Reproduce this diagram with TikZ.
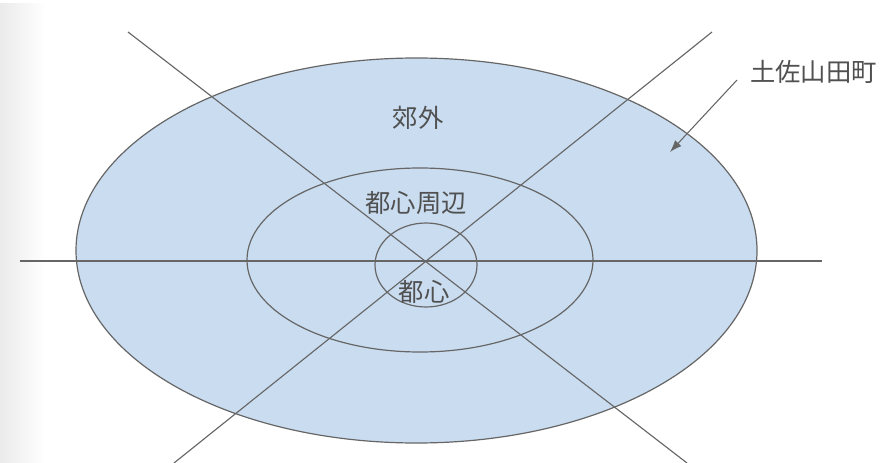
\documentclass[tikz,border=0pt]{standalone}
\usepackage{fontspec}
\newfontfamily\jp{Noto Sans CJK JP}
\usetikzlibrary{arrows.meta}
\definecolor{fillblue}{HTML}{C9DCF0}
\definecolor{linegray}{HTML}{666666}
\definecolor{textgray}{HTML}{505050}
\tikzset{
  ring/.style={draw=linegray, line width=0.9pt},
  axis/.style={draw=linegray, line width=0.85pt},
  lbl/.style={text=textgray, font=\jp\fontsize{19}{19}\selectfont, inner sep=0pt},
  pointer/.style={draw=linegray, line width=0.8pt, -{Latex[length=9pt,width=6.5pt]}}
}
\begin{document}
\begin{tikzpicture}[x=0.75pt,y=-0.75pt]
\useasboundingbox (0,0) rectangle (887,463);
\fill[white] (0,0) rectangle (887,463);
\shade[left color=black!8, right color=white] (0,4) rectangle (45,463);
% ellipses
\path[ring, fill=fillblue] (416.5,250.5) ellipse [x radius=340.5, y radius=192.5];
\path[ring] (420,260) ellipse [x radius=173, y radius=92];
\path[ring] (426,265) ellipse [x radius=51, y radius=42];
% axes
\coordinate (hl) at (20,261);
\coordinate (hr) at (822,261);
\coordinate (d1a) at (128,32);
\coordinate (d1b) at (687,463);
\coordinate (d2a) at (712,32);
\coordinate (d2b) at (174,463);
\draw[axis] (hl) -- (hr);
\draw[axis] (d1a) -- (d1b);
\draw[axis] (d2a) -- (d2b);
% labels
\node[lbl] (kogai) at (418,118) {郊外};
\node[lbl] (shuhen) at (416,203) {都心周辺};
\node[lbl] (toshin) at (424,292) {都心};
\node[lbl, anchor=west] (tosa) at (750,72) {土佐山田町};
% pointer
\coordinate (ps) at (737,80);
\coordinate (pe) at (670,152);
\draw[pointer] (ps) -- (pe);
\end{tikzpicture}
\end{document}
